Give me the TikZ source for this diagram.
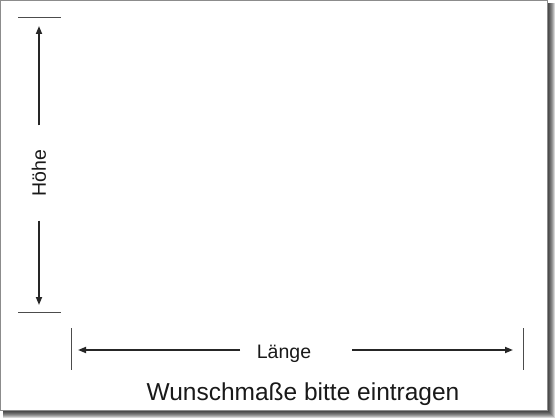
\documentclass[tikz,border=0pt]{standalone}
\usepackage{fontspec}
\setmainfont{Liberation Sans}
\usetikzlibrary{arrows.meta}

\begin{document}
\begin{tikzpicture}[x=1pt,y=-1pt]
    \tikzstyle{mass}=[line width=1.7pt, draw=black!85, -{Triangle[length=8pt,width=6pt]}]
    \tikzstyle{grenze}=[line width=.8pt, draw=black!70]
    \tikzstyle{beschriftung}=[text=black!90, font=\fontsize{19.5}{20}\selectfont]
    \useasboundingbox (0,0) rectangle (560,420);
    \foreach \r in {1,...,8}
      \fill[black, opacity=.16] (3,3) rectangle (547+\r,410+\r);
    \filldraw[fill=white, draw=black!45, line width=.8pt] (0.5,0.5) rectangle (547,410);
    \coordinate (t1) at (18,17);
    \coordinate (t2) at (61,17);
    \coordinate (t3) at (18,312);
    \coordinate (t4) at (61,312);
    \coordinate (t5) at (71,328);
    \coordinate (t6) at (71,370);
    \coordinate (t7) at (523,328);
    \coordinate (t8) at (523,370);
    \foreach \a/\b in {t1/t2,t3/t4,t5/t6,t7/t8}
      \draw[grenze] (\a) -- (\b);
    \node[beschriftung, rotate=90, inner xsep=24pt] (hoehe) at (39,173) {Höhe};
    \coordinate (hoben) at (39,26);
    \coordinate (hunten) at (39,305);
    \draw[mass] (hoehe.east -| hoben) -- (hoben);
    \draw[mass] (hoehe.west -| hunten) -- (hunten);
    \node[beschriftung, anchor=base] (laenge) at (284,358) {Länge};
    \coordinate (llinks) at (78,350);
    \coordinate (lrechts) at (513,350);
    \coordinate (lende) at (240,350);
    \coordinate (lanfang) at (352,350);
    \draw[mass] (lende) -- (llinks);
    \draw[mass] (lanfang) -- (lrechts);
    \node[text=black!90, font=\fontsize{24.5}{26}\selectfont, anchor=base] (wunsch) at (303,400) {Wunschmaße bitte eintragen};
\end{tikzpicture}
\end{document}
